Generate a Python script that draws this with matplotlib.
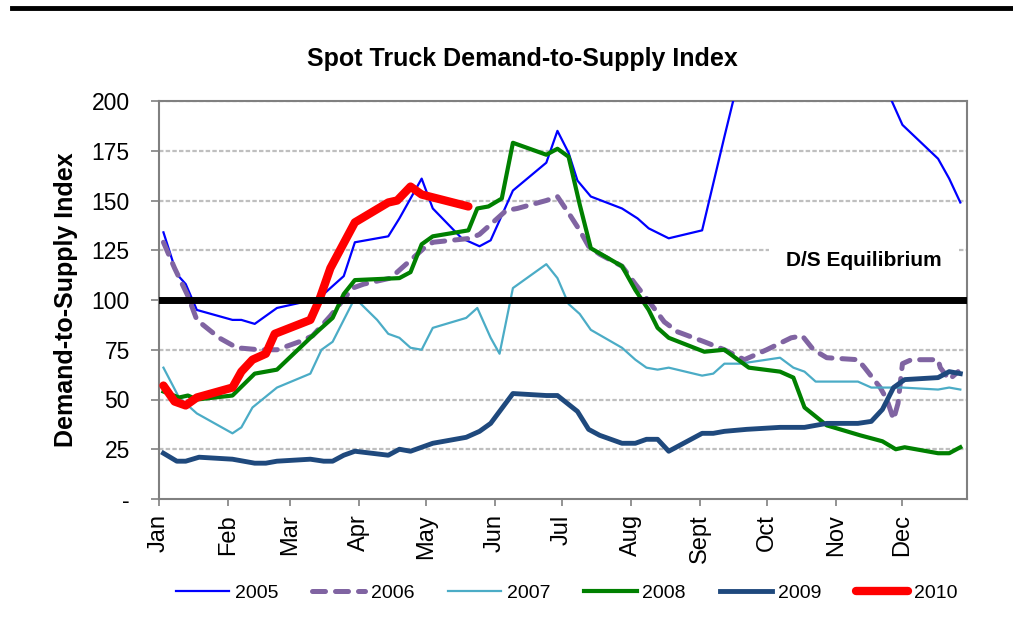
import matplotlib
matplotlib.use("Agg")
import matplotlib.pyplot as plt
from matplotlib.lines import Line2D

plt.rcParams['font.family'] = ['Liberation Sans', 'DejaVu Sans']

# weekly index readings, x = day of year
d2005 = [2, 8, 12, 17, 33, 37, 43, 53, 69, 74, 83, 88, 103, 108, 118, 123, 136, 144, 149, 159,
         174, 179, 184, 188, 194, 208, 215, 220, 229, 244, 254, 261, 326, 334, 350, 355, 360]
v2005 = [134, 113, 108, 95, 90, 90, 88, 96, 100, 103, 112, 129, 132, 141, 161, 146, 131, 127, 130, 155,
         169, 185, 174, 160, 152, 146, 141, 136, 131, 135, 182, 214, 208, 188, 171, 161, 149]

d2006 = [2, 7, 13, 17, 27, 35, 45, 53, 63, 69, 77, 87, 92, 104, 107, 119, 123, 140, 144, 156,
         161, 174, 179, 185, 189, 193, 198, 208, 214, 221, 227, 233, 245, 254, 263, 273, 284, 289, 294, 300,
         314, 317, 324, 327, 330, 332, 334, 338, 350, 351, 355, 359]
v2006 = [129, 116, 102, 90, 81, 76, 75, 75, 79, 82, 92, 106, 108, 111, 114, 126, 129, 131, 133, 145,
         146, 150, 152, 142, 135, 127, 123, 117, 108, 98, 89, 84, 79, 75, 70, 75, 81, 82, 75, 71,
         70, 66, 56, 50, 40, 48, 68, 70, 70, 66, 60, 64]

d2007 = [2, 9, 17, 33, 37, 42, 53, 68, 73, 78, 88, 98, 103, 108, 113, 118, 123, 138, 143, 149,
         153, 159, 174, 179, 184, 189, 194, 208, 214, 219, 224, 229, 244, 249, 254, 261, 279, 285, 290, 295,
         300, 314, 320, 326, 334, 350, 355, 360]
v2007 = [66, 51, 43, 33, 36, 46, 56, 63, 75, 79, 101, 90, 83, 81, 76, 75, 86, 91, 96, 81,
         73, 106, 118, 111, 98, 93, 85, 76, 70, 66, 65, 66, 62, 63, 68, 68, 71, 66, 64, 59,
         59, 59, 56, 56, 56, 55, 56, 55]

d2008 = [2, 9, 13, 17, 33, 43, 53, 68, 78, 83, 88, 108, 113, 118, 123, 139, 143, 148, 154, 159,
         174, 179, 184, 189, 194, 208, 214, 220, 224, 229, 245, 254, 265, 279, 285, 290, 300, 315, 325, 331,
         335, 350, 355, 360]
v2008 = [54, 51, 52, 50, 52, 63, 65, 81, 91, 103, 110, 111, 114, 128, 132, 135, 146, 147, 151, 179,
         173, 176, 172, 148, 126, 117, 105, 95, 86, 81, 74, 75, 66, 64, 61, 46, 37, 32, 29, 25,
         26, 23, 23, 26]

d2009 = [2, 8, 12, 18, 33, 43, 48, 53, 68, 74, 78, 83, 88, 103, 108, 113, 118, 123, 138, 144,
         149, 159, 174, 179, 188, 193, 198, 208, 214, 219, 224, 229, 244, 249, 254, 264, 279, 290, 300, 314,
         320, 325, 330, 335, 350, 355, 360]
v2009 = [23, 19, 19, 21, 20, 18, 18, 19, 20, 19, 19, 22, 24, 22, 25, 24, 26, 28, 31, 34,
         38, 53, 52, 52, 44, 35, 32, 28, 28, 30, 30, 24, 33, 33, 34, 35, 36, 36, 38, 38,
         39, 45, 56, 60, 61, 64, 63]

d2010 = [2, 7, 12, 17, 33, 37, 42, 48, 52, 68, 72, 77, 88, 103, 107, 113, 118, 139]
v2010 = [57, 49, 47, 51, 56, 64, 70, 73, 83, 90, 100, 116, 139, 149, 150, 157, 153, 147]

month_days = [0, 31, 59, 90, 120, 151, 181, 212, 243, 273, 304, 334]
month_labels = ['Jan', 'Feb', 'Mar', 'Apr', 'May', 'Jun', 'Jul', 'Aug', 'Sept', 'Oct', 'Nov', 'Dec']
y_ticks = [0, 25, 50, 75, 100, 125, 150, 175, 200]
y_labels = ['-', '25', '50', '75', '100', '125', '150', '175', '200']

fig = plt.figure(figsize=(10.13, 6.44), dpi=100)
ax = fig.add_axes([159/1013, 1-499/644, (967-159)/1013, (499-101)/644])

# grid
for y in y_ticks[1:]:
    if y != 100:
        ax.axhline(y, color='#BFBFBF', lw=1.6, ls=(0, (2, 1)), zorder=1)

ax.plot(d2005, v2005, color='#0000FF', lw=1.6, label='2005', zorder=3)
ax.plot(d2006, v2006, color='#8064A2', lw=3.6, ls=(0, (2.6, 2.0)),
        dash_capstyle='round', label='2006', zorder=3)
ax.plot(d2007, v2007, color='#4BACC6', lw=1.6, label='2007', zorder=3)
ax.plot(d2008, v2008, color='#008000', lw=3.0, label='2008', zorder=4)
ax.plot(d2009, v2009, color='#1F497D', lw=3.5, label='2009', zorder=4)
ax.plot(d2010, v2010, color='#FF0000', lw=6.0, solid_capstyle='round', solid_joinstyle='round',
        label='2010', zorder=5)

# equilibrium line
ax.axhline(100, color='black', lw=5, zorder=6)
ax.text(0.872, 120, 'D/S Equilibrium', transform=ax.get_yaxis_transform(),
        ha='center', va='center', fontsize=15, fontweight='bold', zorder=2,
        bbox=dict(boxstyle='square,pad=0.8', fc='white', ec='none'))

ax.set_xlim(0, 363)
ax.set_ylim(0, 200)
ax.set_xticks(month_days)
ax.set_xticklabels(month_labels, rotation=90, fontsize=17)
ax.set_yticks(y_ticks)
ax.set_yticklabels(y_labels, fontsize=16.5)
ax.tick_params(axis='y', length=6, pad=15, color='#808080', width=1.2)
ax.tick_params(axis='x', length=5, pad=6, color='#808080', width=1.2)
for s in ax.spines.values():
    s.set_color('#808080')
    s.set_linewidth(1.5)

ax.set_ylabel('Demand-to-Supply Index', fontsize=18, fontweight='bold', labelpad=10)
fig.text(522/1013, 1-59/644, 'Spot Truck Demand-to-Supply Index', ha='center', va='center',
         fontsize=18, fontweight='bold')

# top rule
fig.add_artist(Line2D([12/1013, 1], [1-8/644, 1-8/644], color='black', lw=3.5))

fig.legend(loc='center', bbox_to_anchor=(567/1013, 1-593/644), ncol=6, frameon=False,
           fontsize=14, handlelength=2.7, handletextpad=0.3, columnspacing=1.75)

fig.savefig('out.png', dpi=100)
